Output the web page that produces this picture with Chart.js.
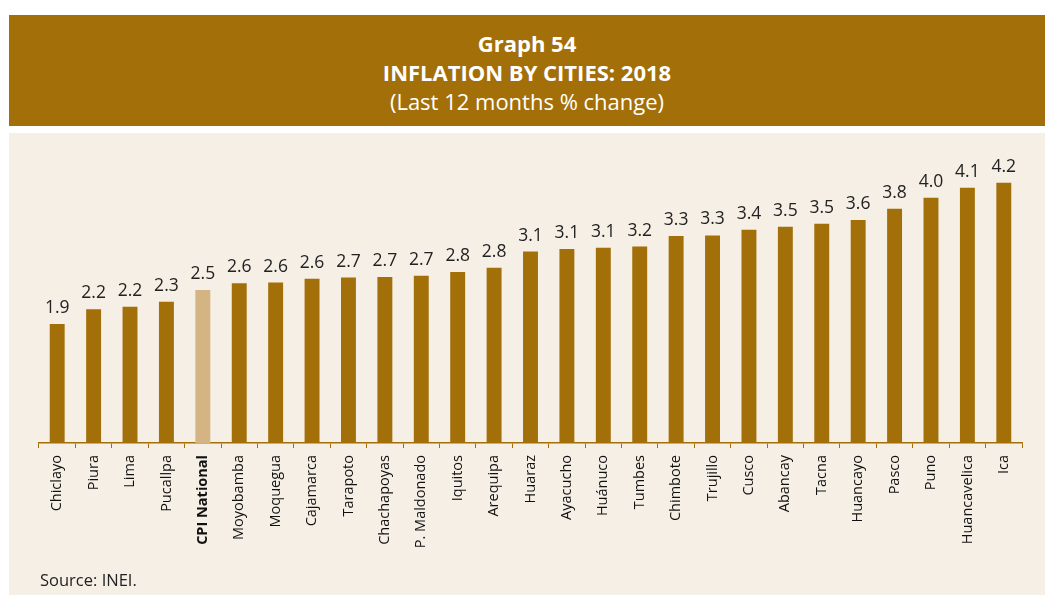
<!DOCTYPE html>
<html>
<head>
<meta charset="utf-8">
<script src="https://cdn.jsdelivr.net/npm/chart.js@4"></script>
<style>
  body { margin: 0; width: 1045px; height: 595px; background: #fff; font-family: "Open Sans", sans-serif; overflow: hidden; }
  #hdr { position: absolute; left: 9px; top: 15px; width: 1036px; height: 111px; background: #A36F08; color: #fff; text-align: center; }
  #hdr div { position: absolute; left: 0; width: 100%; font-size: 22px; line-height: 28px; }
  #panel { position: absolute; left: 9px; top: 133px; width: 1036px; height: 462px; background: #F5EFE6; }
  #src { position: absolute; left: 31px; top: 435px; font-size: 16.5px; color: #222; }
</style>
</head>
<body>
<div id="hdr">
  <div style="top:14px;font-weight:bold">Graph 54</div>
  <div style="top:43px;font-weight:bold">INFLATION BY CITIES: 2018</div>
  <div style="top:72px">(Last 12 months % change)</div>
</div>
<div id="panel">
  <canvas id="inflationChart" width="1036" height="462"></canvas>
  <div id="src">Source: INEI.</div>
</div>
<script>
// cities, bar heights, printed labels
const cities = ['Chiclayo', 'Piura', 'Lima', 'Pucallpa', 'CPI National', 'Moyobamba', 'Moquegua',
    'Cajamarca', 'Tarapoto', 'Chachapoyas', 'P. Maldonado', 'Iquitos', 'Arequipa', 'Huaraz',
    'Ayacucho', 'Huánuco', 'Tumbes', 'Chimbote', 'Trujillo', 'Cusco', 'Abancay', 'Tacna',
    'Huancayo', 'Pasco', 'Puno', 'Huancavelica', 'Ica'];
const inflation = [1.92, 2.16, 2.20, 2.28, 2.47, 2.58, 2.59, 2.65, 2.67, 2.68, 2.70, 2.76, 2.83, 3.09,
    3.13, 3.15, 3.17, 3.34, 3.35, 3.44, 3.49, 3.54, 3.60, 3.78, 3.96, 4.12, 4.20];
const valueLabels = ['1.9', '2.2', '2.2', '2.3', '2.5', '2.6', '2.6', '2.6', '2.7', '2.7', '2.7', '2.8', '2.8', '3.1',
    '3.1', '3.1', '3.2', '3.3', '3.3', '3.4', '3.5', '3.5', '3.6', '3.8', '4.0', '4.1', '4.2'];
const nationalIndex = cities.indexOf('CPI National');

const brown = '#A36F08';
const sand = '#D4B483';

// write the value above each bar
const barValues = {
    id: 'barValues',
    afterDatasetsDraw(chart) {
        const ctx = chart.ctx;
        const meta = chart.getDatasetMeta(0);
        ctx.save();
        ctx.font = '17.5px "Open Sans"';
        ctx.fillStyle = '#222';
        ctx.textAlign = 'center';
        ctx.textBaseline = 'alphabetic';
        meta.data.forEach((bar, i) => {
            ctx.fillText(valueLabels[i], bar.x, bar.y - 11);
        });
        ctx.restore();
    }
};

new Chart(document.getElementById('inflationChart').getContext('2d'), {
    type: 'bar',
    data: {
        labels: cities,
        datasets: [{
            data: inflation,
            backgroundColor: cities.map((c, i) => i === nationalIndex ? sand : brown),
            categoryPercentage: 1,
            barPercentage: 0.41
        }]
    },
    options: {
        responsive: false,
        animation: false,
        layout: { padding: { left: 30, right: 23, top: 25, bottom: 0 } },
        plugins: { legend: { display: false }, tooltip: { enabled: false } },
        scales: {
            x: {
                afterFit(scale) { scale.height = 152; },
                border: { display: true, color: brown, width: 1.5 },
                grid: { display: true, drawOnChartArea: false, drawTicks: true, tickLength: 5, color: brown, offset: true },
                ticks: {
                    autoSkip: false,
                    minRotation: 90,
                    maxRotation: 90,
                    padding: 7,
                    color: '#111',
                    font: ctx => ctx.index === nationalIndex
                        ? { family: '"Open Sans"', size: 14.5, weight: 'bold' }
                        : { family: '"Open Sans"', size: 14.5 }
                }
            },
            y: {
                display: false,
                min: 0,
                max: 4.6
            }
        }
    },
    plugins: [barValues]
});
</script>
</body>
</html>
